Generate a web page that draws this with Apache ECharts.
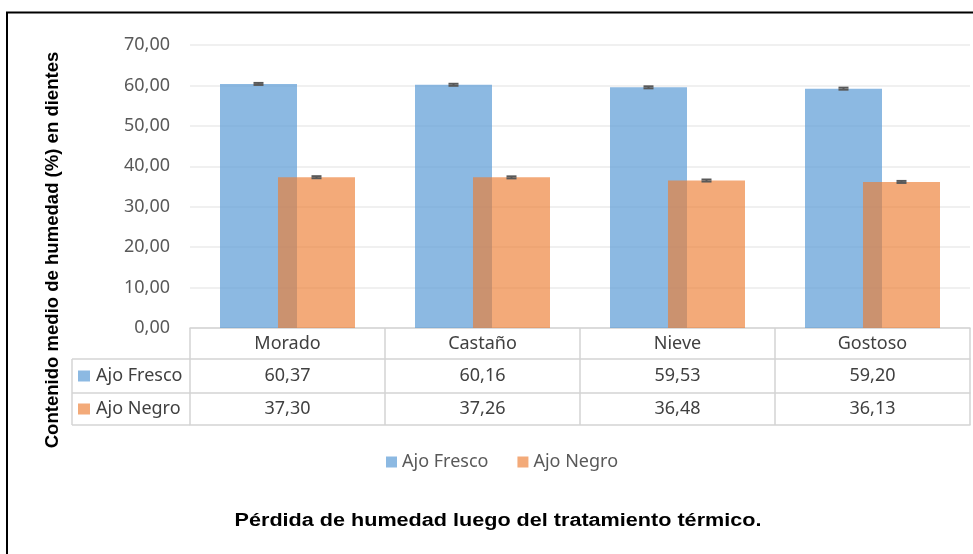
<!DOCTYPE html>
<html>
<head>
<meta charset="utf-8">
<script src="https://cdn.jsdelivr.net/npm/echarts@6/dist/echarts.min.js"></script>
<style>
html,body{margin:0;padding:0;background:#fff;}
#chart{width:973px;height:554px;}
</style>
</head>
<body>
<div id="chart"></div>
<script>
var categories = ['Morado', 'Castaño', 'Nieve', 'Gostoso'];
var seriesNames = ['Ajo Fresco', 'Ajo Negro'];
var ajoFresco = [60.37, 60.16, 59.53, 59.20];
var ajoNegro = [37.30, 37.26, 36.48, 36.13];
var errFresco = [0.25, 0.25, 0.25, 0.25];
var errNegro = [0.25, 0.25, 0.25, 0.25];
var yTicks = { min: 0, max: 70, interval: 10 };
var yTitle = 'Contenido medio de humedad (%) en dientes';
var chartTitle = 'Pérdida de humedad luego del tratamiento térmico.';

var colors = ['rgba(91,155,213,0.7)', 'rgba(237,125,49,0.65)'];
var fontMain = '"Noto Sans", sans-serif';
var fontBold = '"Liberation Sans", Arial, sans-serif';
var tableLine = '#d4d4d4';
var txt = '#404040';

function fmt(v) { return v.toFixed(2).replace('.', ','); }

var BAR_W = 77, OVERLAP = 19;
var barOffset = (BAR_W - OVERLAP) / 2; // px from band center

function errSeries(name, values, errs, sign) {
  return {
    type: 'custom',
    name: name + ' err',
    z: 5,
    silent: true,
    data: values.map(function (v, i) { return [i, v, errs[i]]; }),
    renderItem: function (params, api) {
      var i = api.value(0), v = api.value(1), e = api.value(2);
      var top = api.coord([i, v + e]);
      var bot = api.coord([i, v - e]);
      var x = top[0] + sign * barOffset;
      var hw = 5;
      var st = { stroke: '#595959', lineWidth: 2 };
      return {
        type: 'group',
        children: [
          { type: 'line', shape: { x1: x, y1: top[1], x2: x, y2: bot[1] }, style: st },
          { type: 'line', shape: { x1: x - hw, y1: top[1], x2: x + hw, y2: top[1] }, style: st },
          { type: 'line', shape: { x1: x - hw, y1: bot[1], x2: x + hw, y2: bot[1] }, style: st }
        ]
      };
    }
  };
}

function rowAxis(offset, values, margin, showLabel) {
  return {
    type: 'category',
    data: categories,
    position: 'bottom',
    offset: offset,
    axisLine: { show: true, lineStyle: { color: tableLine, width: 1.5 } },
    axisTick: { show: false },
    axisLabel: {
      show: showLabel,
      interval: 0,
      margin: margin,
      verticalAlign: 'middle',
      color: txt,
      fontSize: 18,
      fontFamily: fontMain,
      formatter: function (val, idx) { return values ? fmt(values[idx]) : val; }
    },
    splitLine: { show: false }
  };
}

var chart = echarts.init(document.getElementById('chart'), null, { renderer: 'canvas' });

var T0 = 328, R1 = 359, R2 = 393, R3 = 425, LX = 72, GX = 190;

var option = {
  animation: false,
  backgroundColor: '#fff',
  grid: { left: GX, right: 3, top: 45, bottom: 554 - T0, containLabel: false },
  xAxis: [
    {
      type: 'category',
      data: categories,
      position: 'bottom',
      axisLine: { show: true, lineStyle: { color: tableLine, width: 1.5 } },
      axisTick: { show: true, alignWithLabel: false, length: R3 - T0, lineStyle: { color: tableLine, width: 1.5 } },
      axisLabel: { interval: 0, margin: 16, verticalAlign: 'middle', color: txt, fontSize: 18, fontFamily: fontMain },
      splitLine: { show: false }
    },
    rowAxis(R1 - T0, ajoFresco, 17, true),
    rowAxis(R2 - T0, ajoNegro, 16, true),
    rowAxis(R3 - T0, null, 10, false)
  ],
  yAxis: {
    type: 'value',
    min: yTicks.min,
    max: yTicks.max,
    interval: yTicks.interval,
    axisLine: { show: false },
    axisTick: { show: false },
    axisLabel: { margin: 20, color: '#595959', fontSize: 18, fontFamily: fontMain, formatter: function (v) { return fmt(v); } },
    splitLine: { lineStyle: { color: '#ebebeb', width: 1.5 } }
  },
  legend: {
    data: seriesNames,
    left: 381,
    top: 448,
    icon: 'rect',
    itemWidth: 11,
    itemHeight: 11,
    itemGap: 29,
    textStyle: { color: '#595959', fontSize: 18, fontFamily: fontMain }
  },
  series: [
    { type: 'bar', name: seriesNames[0], data: ajoFresco, barWidth: BAR_W, barGap: (-OVERLAP / BAR_W * 100).toFixed(2) + '%', itemStyle: { color: colors[0] }, z: 2 },
    { type: 'bar', name: seriesNames[1], data: ajoNegro, barWidth: BAR_W, barGap: (-OVERLAP / BAR_W * 100).toFixed(2) + '%', itemStyle: { color: colors[1] }, z: 3 },
    errSeries(seriesNames[0], ajoFresco, errFresco, -1),
    errSeries(seriesNames[1], ajoNegro, errNegro, 1)
  ],
  graphic: [
    // outer frame
    { type: 'rect', shape: { x: 7, y: 12.5, width: 1000, height: 600 }, style: { fill: null, stroke: '#000', lineWidth: 2 }, z: 10 },
    // row header cells
    { type: 'line', shape: { x1: LX, y1: R1, x2: GX, y2: R1 }, style: { stroke: tableLine, lineWidth: 1.5 } },
    { type: 'line', shape: { x1: LX, y1: R2, x2: GX, y2: R2 }, style: { stroke: tableLine, lineWidth: 1.5 } },
    { type: 'line', shape: { x1: LX, y1: R3, x2: GX, y2: R3 }, style: { stroke: tableLine, lineWidth: 1.5 } },
    { type: 'line', shape: { x1: LX, y1: R1, x2: LX, y2: R3 }, style: { stroke: tableLine, lineWidth: 1.5 } },
    { type: 'rect', shape: { x: 78, y: (R1 + R2) / 2 - 5.5, width: 12, height: 11 }, style: { fill: colors[0] } },
    { type: 'rect', shape: { x: 78, y: (R2 + R3) / 2 - 5.5, width: 12, height: 11 }, style: { fill: colors[1] } },
    { type: 'text', x: 96, y: (R1 + R2) / 2, style: { text: seriesNames[0], fill: txt, fontSize: 18, fontFamily: fontMain, verticalAlign: 'middle', align: 'left' } },
    { type: 'text', x: 96, y: (R2 + R3) / 2, style: { text: seriesNames[1], fill: txt, fontSize: 18, fontFamily: fontMain, verticalAlign: 'middle', align: 'left' } },
    // y axis title
    { type: 'text', x: 53, y: 250, rotation: Math.PI / 2, scaleX: 1.03, style: { text: yTitle, fill: '#000', fontSize: 18, fontWeight: 'bold', fontFamily: fontBold, align: 'center', verticalAlign: 'middle' } },
    // chart title
    { type: 'text', x: 498, y: 521, scaleX: 1.2, style: { text: chartTitle, fill: '#000', fontSize: 18, fontWeight: 'bold', fontFamily: fontBold, align: 'center', verticalAlign: 'middle' } }
  ]
};

chart.setOption(option);
</script>
</body>
</html>
